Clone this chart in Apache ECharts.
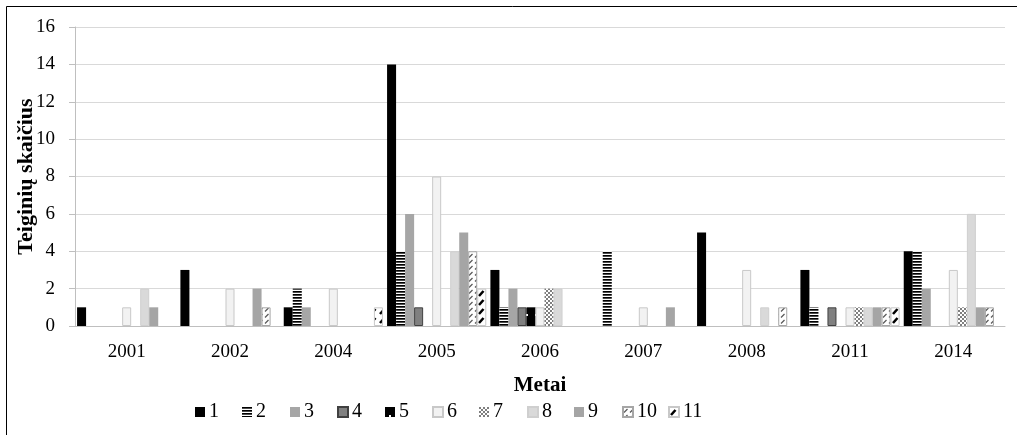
<!DOCTYPE html>
<html>
<head>
<meta charset="utf-8">
<script src="https://cdn.jsdelivr.net/npm/echarts@6/dist/echarts.min.js"></script>
<style>
html,body{margin:0;padding:0;background:#fff;}
#chart{width:1017px;height:435px;}
</style>
</head>
<body>
<div id="chart"></div>
<script>
const years = ['2001','2002','2004','2005','2006','2007','2008','2011','2014'];
const seriesNames = ['1','2','3','4','5','6','7','8','9','10','11'];
const s1  = [1, 3, 1, 14, 3, 0, 5, 3, 4];
const s2  = [0, 0, 2, 4, 1, 4, 0, 1, 4];
const s3  = [0, 0, 1, 6, 2, 0, 0, 0, 2];
const s4  = [0, 0, 0, 1, 1, 0, 0, 1, 0];
const s5  = [0, 0, 0, 0, 1, 0, 0, 0, 0];
const s6  = [1, 2, 2, 8, 1, 1, 3, 1, 3];
const s7  = [0, 0, 0, 0, 2, 0, 0, 1, 1];
const s8  = [2, 0, 0, 4, 2, 0, 1, 1, 6];
const s9  = [1, 2, 0, 5, 0, 1, 0, 1, 1];
const s10 = [0, 1, 0, 4, 0, 0, 1, 1, 1];
const s11 = [0, 0, 1, 2, 0, 0, 0, 1, 0];
const yTicks = [0, 2, 4, 6, 8, 10, 12, 14, 16];

const allData = [s1,s2,s3,s4,s5,s6,s7,s8,s9,s10,s11];

function mk(w, h, draw) {
  const c = document.createElement('canvas');
  c.width = w; c.height = h;
  const g = c.getContext('2d');
  draw(g, w, h);
  return { image: c, repeat: 'repeat' };
}
const pStripes = mk(4, 3, (g) => { g.fillStyle = '#fff'; g.fillRect(0,0,4,3); g.fillStyle = '#000'; g.fillRect(0,0,4,1.7); });
const pDot = mk(9, 18, (g) => { g.fillStyle = '#000'; g.fillRect(0,0,9,18); g.fillStyle = '#fff'; g.fillRect(4,8,2,2); });
const pCheck = mk(4, 4, (g) => { g.fillStyle = '#fff'; g.fillRect(0,0,4,4); g.fillStyle = '#7f7f7f'; g.fillRect(0,0,2,2); g.fillRect(2,2,2,2); });
const pDash = mk(6, 6, (g) => { g.fillStyle = '#fff'; g.fillRect(0,0,6,6); g.strokeStyle = '#595959'; g.lineWidth = 1.3; g.beginPath(); g.moveTo(1,5.5); g.lineTo(4.5,2); g.stroke(); });
const pThick = mk(9, 9, (g) => { g.fillStyle = '#fff'; g.fillRect(0,0,9,9); g.strokeStyle = '#000'; g.lineWidth = 2.6; g.beginPath(); g.moveTo(2,8); g.lineTo(6.5,3); g.stroke(); });

const styles = [
  { color: '#000000' },
  { color: pStripes },
  { color: '#a6a6a6' },
  { color: '#808080', borderColor: '#404040', borderWidth: 1 },
  { color: pDot },
  { color: '#f2f2f2', borderColor: '#c8c8c8', borderWidth: 1 },
  { color: pCheck },
  { color: '#d9d9d9', borderColor: '#cfcfcf', borderWidth: 1 },
  { color: '#a5a5a5' },
  { color: pDash, borderColor: '#a6a6a6', borderWidth: 1 },
  { color: pThick, borderColor: '#c8c8c8', borderWidth: 1 }
];

const FONT = '"Liberation Serif", "Times New Roman", serif';

const series = seriesNames.map((n, i) => ({
  name: n,
  type: 'bar',
  data: allData[i].map(v => (v === 0 ? null : v)),
  barGap: '0%',
  barCategoryGap: '4%',
  itemStyle: styles[i]
}));

const legendLefts = [195, 242, 290, 337, 385, 432, 479, 527, 574, 622, 668];
const legends = seriesNames.map((n, i) => ({
  data: [n],
  left: legendLefts[i],
  top: 402,
  icon: 'rect',
  itemWidth: 10,
  itemHeight: 10,
  itemGap: 5,
  textStyle: { fontFamily: FONT, fontSize: 20, color: '#000', padding: [0,0,0,-1] },
  padding: 0
}));

const chart = echarts.init(document.getElementById('chart'));
chart.setOption({
  animation: false,
  backgroundColor: '#fff',
  graphic: [{
    type: 'rect',
    shape: { x: 6.5, y: 6.5, width: 1100, height: 500 },
    style: { fill: 'none', stroke: '#000', lineWidth: 1 },
    z: 100
  }],
  grid: { left: 75, right: 12, top: 27, bottom: 109 },
  legend: legends,
  xAxis: {
    type: 'category',
    data: years,
    name: 'Metai',
    nameLocation: 'middle',
    nameGap: 49,
    nameMoveOverlap: false,
    nameTextStyle: { fontFamily: FONT, fontSize: 21, fontWeight: 'bold', color: '#000' },
    axisLine: { lineStyle: { color: '#bfbfbf', width: 1 } },
    axisTick: { show: false },
    axisLabel: { fontFamily: FONT, fontSize: 19, color: '#000', margin: 17 }
  },
  yAxis: {
    type: 'value',
    min: yTicks[0],
    max: yTicks[yTicks.length - 1],
    interval: yTicks[1] - yTicks[0],
    name: 'Teiginių skaičius',
    nameLocation: 'middle',
    nameGap: 38,
    nameMoveOverlap: false,
    nameTextStyle: { fontFamily: FONT, fontSize: 22, fontWeight: 'bold', color: '#000' },
    axisLine: { show: true, lineStyle: { color: '#bfbfbf', width: 1 } },
    axisTick: { show: true, length: 6, lineStyle: { color: '#bfbfbf' } },
    axisLabel: { fontFamily: FONT, fontSize: 19, color: '#000', margin: 20 },
    splitLine: { lineStyle: { color: '#d9d9d9', width: 1 } }
  },
  series: series
});
</script>
</body>
</html>
